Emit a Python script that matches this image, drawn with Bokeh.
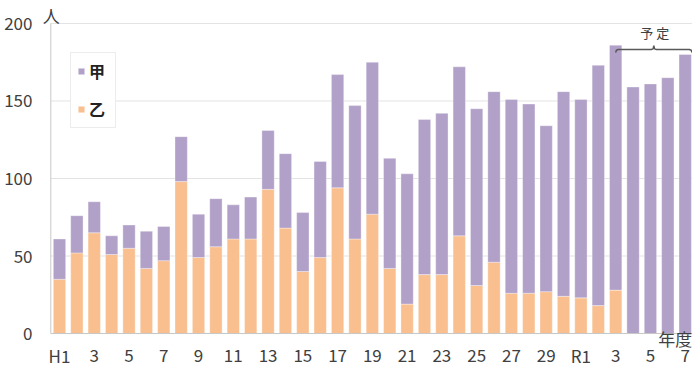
from bokeh.plotting import figure
from bokeh.models import (ColumnDataSource, Range1d, FixedTicker, Legend, LegendItem, Label)
from bokeh.core.properties import value
from bokeh.embed import file_html
from bokeh.resources import INLINE

years = ["H1","H2","H3","H4","H5","H6","H7","H8","H9","H10",
         "H11","H12","H13","H14","H15","H16","H17","H18","H19","H20",
         "H21","H22","H23","H24","H25","H26","H27","H28","H29","H30",
         "R1","R2","R3","R4","R5","R6","R7"]
tick_labels = ["H1","","3","","5","","7","","9","",
               "11","","13","","15","","17","","19","",
               "21","","23","","25","","27","","29","",
               "R1","","3","","5","","7"]
totals = [61, 76, 85, 63, 70, 66, 69, 127, 77, 87,
          83, 88, 131, 116, 78, 111, 167, 147, 175, 113,
          103, 138, 142, 172, 145, 156, 151, 148, 134, 156,
          151, 173, 186, 159, 161, 165, 180]
otsu = [35, 52, 65, 51, 55, 42, 47, 98, 49, 56,
        61, 61, 93, 68, 40, 49, 94, 61, 77, 42,
        19, 38, 38, 63, 31, 46, 26, 26, 27, 24,
        23, 18, 28, 0, 0, 0, 0]
kou = [t - o for t, o in zip(totals, otsu)]
series_names = ["甲", "乙"]
y_ticks = [0, 50, 100, 150, 200]
plan_label = "予 定"
plan_start = "R3"
unit_label = "人"
x_title = "年度"

PURPLE = "#B1A0C7"
ORANGE = "#F9BF8F"
FONT = "Noto Sans CJK JP"
TXT = "#404040"
AXIS = "#c8c8c8"
GRID = "#e3e3e3"

x_start, x_end = -0.978, 36.42
y_start, y_end = -23.2, 214.8

idx = list(range(len(years)))
src = ColumnDataSource(dict(x=idx, otsu=otsu, kou=kou))

p = figure(width=692, height=369, output_backend="svg", toolbar_location=None,
           x_range=Range1d(x_start, x_end), y_range=Range1d(y_start, y_end),
           min_border_left=42, min_border_right=0, min_border_top=0, min_border_bottom=0)
p.outline_line_color = None
p.background_fill_color = "white"
p.xgrid.grid_line_color = None
p.ygrid.grid_line_color = None

# grid lines (bounded to the plot area, behind bars)
gy = y_ticks[1:]
p.segment(x0=[-0.5] * len(gy), y0=gy, x1=[x_end] * len(gy), y1=gy,
          line_color=GRID, line_width=1)

rs = p.vbar_stack(["otsu", "kou"], x="x", width=0.71, color=[ORANGE, PURPLE],
                  line_color="white", line_alpha=0.35, line_width=1, source=src)

# axis lines
p.segment(x0=[-0.5], y0=[0], x1=[-0.5], y1=[y_ticks[-1]], line_color=AXIS, line_width=1)
p.segment(x0=[-0.5], y0=[0], x1=[x_end], y1=[0], line_color=AXIS, line_width=1)

# y axis
p.yaxis.ticker = FixedTicker(ticks=y_ticks)
p.yaxis.bounds = (0, 200)
yax = p.yaxis[0]
yax.major_tick_line_color = None
yax.minor_tick_line_color = None
yax.major_tick_out = 0
yax.major_tick_in = 0
yax.axis_line_color = None
yax.major_label_text_font = FONT
yax.major_label_text_font_size = "17px"
yax.major_label_text_color = TXT
yax.major_label_standoff = 10

# x axis: category labels drawn as text under each bar
p.xaxis.visible = False
lab_src = ColumnDataSource(dict(x=idx, y=[-14.2] * len(idx), t=tick_labels))
p.text(x="x", y="y", text="t", source=lab_src, text_align="center", text_baseline="middle",
       text_font=value(FONT), text_font_size="17px", text_color=TXT)

# legend
legend = Legend(items=[LegendItem(label=series_names[0], renderers=[rs[1]]),
                       LegendItem(label=series_names[1], renderers=[rs[0]])],
                location=(28, 241), orientation="vertical")
legend.label_text_font = FONT
legend.label_text_font_size = "16px"
legend.label_text_font_style = "bold"
legend.label_text_color = "#222222"
legend.glyph_width = 8
legend.glyph_height = 8
legend.label_standoff = 4
legend.label_height = 20
legend.spacing = 14
legend.padding = 6
legend.margin = 0
legend.border_line_color = "#d9d9d9"
legend.background_fill_color = "white"
legend.background_fill_alpha = 1.0
p.add_layout(legend)

# brace over planned years
s = years.index(plan_start)
e = x_end - 0.03
m = (s + e) / 2
bx = [s, s + 0.04, s + 0.15, m - 0.15, m - 0.04, m, m + 0.04, m + 0.15, e - 0.15, e - 0.04, e]
by = [181.2, 182.7, 183.2, 183.2, 183.6, 185.6, 183.6, 183.2, 183.2, 182.7, 181.2]
p.line(bx, by, line_color="#595959", line_width=1.5)
p.add_layout(Label(x=m + 0.05, y=194, text=plan_label, text_align="center", text_baseline="middle",
                   text_font=FONT, text_font_size="13px", text_color=TXT))

# unit labels
p.add_layout(Label(x=x_start + 0.02, y=205, text=unit_label, text_align="left", text_baseline="middle",
                   text_font=FONT, text_font_size="17px", text_color=TXT))
p.add_layout(Label(x=x_end - 0.02, y=-3.2, text=x_title, text_align="right", text_baseline="middle",
                   text_font=FONT, text_font_size="17px", text_color=TXT))

open("out.html", "w").write(file_html(p, INLINE))
